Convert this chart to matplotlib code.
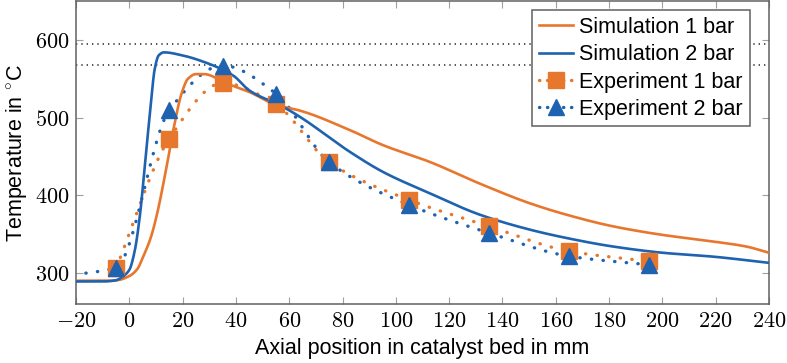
import numpy as np
import matplotlib
matplotlib.use("Agg")
import matplotlib.pyplot as plt
from matplotlib.lines import Line2D
from matplotlib.ticker import FuncFormatter

# ── Data ──────────────────────────────────────────────────────────────────────
sim1_x = [-20, -8, -4, 0, 3, 5.2, 8, 10.2, 14, 16.5, 19.6, 22, 25, 28, 36.5,
          45, 55.3, 64, 82.7, 95.2, 112.7, 131.5, 150, 164, 181.5, 200, 219,
          231.5, 240]
sim1_T = [290, 290, 291, 296, 305, 321, 345, 373, 437, 484, 531, 550, 556,
          556, 544, 533, 516, 509, 484, 464.5, 443, 415, 390, 375, 360, 349,
          340.5, 334, 326]

sim2_x = [-20, -10, -5, -3, 0, 2, 4, 6, 8, 9.5, 11, 13, 20, 26.5, 39, 45,
          57.8, 64, 82.7, 95.2, 112.7, 131.5, 150, 164, 181.5, 200, 219, 240]
sim2_T = [289, 289, 290.5, 294, 304, 328, 375, 445, 515, 562, 580, 584, 580,
          573.5, 554, 535, 513.6, 501, 456, 430, 402.6, 375, 356, 345, 334,
          326, 321, 313]

exp_x = [-5, 15, 35, 55, 75, 105, 135, 165, 195]
exp1_T = [306, 473, 544.5, 517, 442.5, 394, 360, 328, 315]
exp2_T = [307, 509.5, 567, 531, 442.5, 387.5, 351.5, 321.5, 310.5]
# 2 bar run has one more probe upstream, outside the plotted range
exp2_x_up = -25
exp2_T_up = 296

ref_lines = [595, 568]

labels = ["Simulation 1 bar", "Simulation 2 bar",
          "Experiment 1 bar", "Experiment 2 bar"]

ORANGE = "#E8772E"
BLUE = "#1F62B0"


def smooth(x, y, n=30):
    """Monotone cubic (PCHIP) through the points, no overshoot."""
    x = np.asarray(x, float)
    y = np.asarray(y, float)
    h = np.diff(x)
    d = np.diff(y) / h
    m = np.zeros_like(y)
    m[0], m[-1] = d[0], d[-1]
    for k in range(1, len(x) - 1):
        if d[k - 1] * d[k] > 0:
            w1 = 2 * h[k] + h[k - 1]
            w2 = h[k] + 2 * h[k - 1]
            m[k] = (w1 + w2) / (w1 / d[k - 1] + w2 / d[k])
    s = np.linspace(0, 1, n, endpoint=False)
    h00 = 2 * s**3 - 3 * s**2 + 1
    h10 = s**3 - 2 * s**2 + s
    h01 = -2 * s**3 + 3 * s**2
    h11 = s**3 - s**2
    xs, ys = [], []
    for k in range(len(x) - 1):
        xs.append(x[k] + s * h[k])
        ys.append(h00 * y[k] + h10 * h[k] * m[k] + h01 * y[k + 1]
                  + h11 * h[k] * m[k + 1])
    xs.append([x[-1]])
    ys.append([y[-1]])
    return np.concatenate(xs), np.concatenate(ys)


plt.rcParams["font.family"] = ["Liberation Sans", "DejaVu Sans"]
plt.rcParams["mathtext.fontset"] = "cm"

fig = plt.figure(figsize=(7.87, 3.63), dpi=100)
ax = fig.add_axes([0.0966, 0.1625, 0.8805, 0.8345])

for yv in ref_lines:
    ax.axhline(yv, color="#333333", lw=1.2, ls=(0, (0.8, 2.4)), zorder=1)

dot = (0, (0.1, 3.4))
ex, ey = smooth(exp_x, exp1_T)
ax.plot(ex, ey, color=ORANGE, lw=2.4, ls=dot, dash_capstyle="round", zorder=2)
ex, ey = smooth([exp2_x_up] + exp_x, [exp2_T_up] + exp2_T)
ax.plot(ex, ey, color=BLUE, lw=2.4, ls=dot, dash_capstyle="round", zorder=2)

sx, sy = smooth(sim1_x, sim1_T)
ax.plot(sx, sy, color=ORANGE, lw=1.9, zorder=3)
sx, sy = smooth(sim2_x, sim2_T)
ax.plot(sx, sy, color=BLUE, lw=1.9, zorder=3)

ax.plot(exp_x, exp1_T, ls="none", marker="s", ms=11, color=ORANGE,
        mec=ORANGE, zorder=4)
ax.plot(exp_x, exp2_T, ls="none", marker="^", ms=11.5, color=BLUE,
        mec=BLUE, zorder=5)

ax.set_xlim(-20, 240)
ax.set_ylim(260, 650)
ax.set_xticks(np.arange(-20, 241, 20))
ax.set_yticks([300, 400, 500, 600])
fmt = FuncFormatter(lambda v, p: f"${int(v)}$")
ax.xaxis.set_major_formatter(fmt)
ax.yaxis.set_major_formatter(fmt)
ax.tick_params(direction="in", length=5, width=0.8, color="#a0a0a0",
               top=True, right=True, labelsize=16, pad=5)
for sp in ax.spines.values():
    sp.set_color("#606060")
    sp.set_linewidth(1.1)

ax.set_xlabel("Axial position in catalyst bed in mm", fontsize=15.5,
              labelpad=4)
ax.set_ylabel("Temperature in $^{\\circ}$C", fontsize=15.5, labelpad=4)

handles = [
    Line2D([], [], color=ORANGE, lw=1.9),
    Line2D([], [], color=BLUE, lw=1.9),
    Line2D([], [], color=ORANGE, lw=2.4, ls=(0, (0.1, 2.3)),
           dash_capstyle="round", marker="s", ms=11, mec=ORANGE),
    Line2D([], [], color=BLUE, lw=2.4, ls=(0, (0.1, 2.3)),
           dash_capstyle="round", marker="^", ms=11.5, mec=BLUE),
]
leg = ax.legend(handles, labels, loc="upper right",
                bbox_to_anchor=(0.972, 0.97), fontsize=15.5,
                frameon=True, fancybox=False, framealpha=1,
                edgecolor="#606060", handlelength=1.6, handletextpad=0.3,
                borderpad=0.3, labelspacing=0.3, borderaxespad=0)
leg.get_frame().set_linewidth(1.1)

fig.savefig("out.png", dpi=100)
